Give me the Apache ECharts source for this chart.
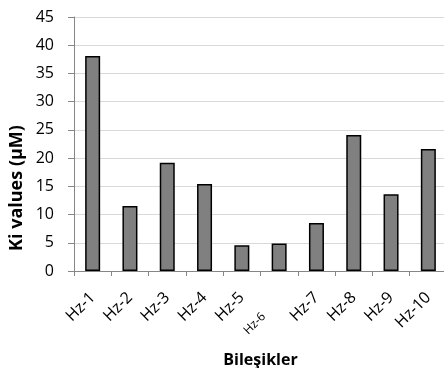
<!DOCTYPE html>
<html>
<head>
<meta charset="utf-8">
<style>html,body{margin:0;padding:0;background:#fff}#c{width:444px;height:368px}</style>
<script src="https://cdn.jsdelivr.net/npm/echarts@6/dist/echarts.min.js"></script>
</head>
<body>
<div id="c"></div>
<script>
var categories = ['Hz-1','Hz-2','Hz-3','Hz-4','Hz-5','Hz-6','Hz-7','Hz-8','Hz-9','Hz-10'];
var kiValues = [38.1, 11.5, 19.2, 15.4, 4.55, 4.85, 8.5, 24.1, 13.6, 21.6];
var yTicks = [0, 5, 10, 15, 20, 25, 30, 35, 40, 45];
var xTitle = 'Bileşikler';
var yTitle = 'Ki values (µM)';
var smallLabel = 'Hz-6';

var FONT = '"Open Sans", sans-serif';
var chart = echarts.init(document.getElementById('c'), null, {renderer: 'canvas'});
chart.setOption({
  animation: false,
  backgroundColor: '#fff',
  grid: {left: 74, top: 17, width: 373, height: 254, containLabel: false, outerBoundsMode: 'none'},
  xAxis: {
    type: 'category',
    data: categories,
    name: xTitle,
    nameLocation: 'middle',
    nameGap: 81,
    nameMoveOverlap: false,
    nameTextStyle: {fontFamily: FONT, fontWeight: 'bold', fontSize: 16, color: '#000'},
    axisLine: {lineStyle: {color: '#868686', width: 1}},
    axisTick: {show: true, length: 5, lineStyle: {color: '#868686'}},
    axisLabel: {
      rotate: 45, margin: 24, interval: 0,
      fontFamily: FONT, fontSize: 16, color: '#000',
      formatter: function (v) { return v === smallLabel ? '{s|' + v + '}' : v; },
      rich: {s: {fontFamily: FONT, fontSize: 12, color: '#000', padding: [6, 25, 0, 0]}}
    }
  },
  yAxis: {
    type: 'value',
    min: yTicks[0], max: yTicks[yTicks.length - 1], interval: 5,
    axisLine: {show: true, lineStyle: {color: '#868686', width: 1}},
    axisTick: {show: true, length: 6, inside: false, lineStyle: {color: '#868686'}},
    axisLabel: {margin: 20, fontFamily: FONT, fontSize: 16, color: '#000'},
    splitLine: {lineStyle: {color: '#d9d9d9', width: 1}}
  },
  graphic: [{
    type: 'text',
    x: 17, y: 188,
    rotation: Math.PI / 2,
    style: {text: yTitle, font: 'bold 18px ' + FONT, fill: '#000', align: 'center', verticalAlign: 'middle'}
  }],
  series: [{
    type: 'bar',
    data: kiValues,
    barWidth: 15,
    itemStyle: {color: '#808080', borderColor: '#000', borderWidth: 1.5}
  }]
});
</script>
</body>
</html>
